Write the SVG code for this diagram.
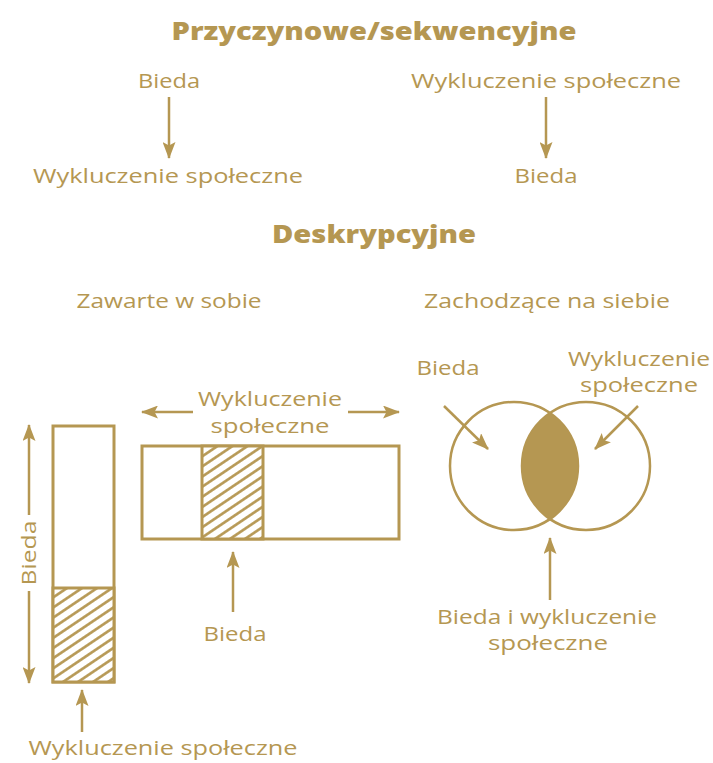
<svg xmlns="http://www.w3.org/2000/svg" width="713" height="763" viewBox="0 0 713 763">
<style>
text{font-family:"Open Sans","Liberation Sans",sans-serif;fill:#B59752;}
.t{font-size:25px;font-weight:800;text-anchor:middle;}
.l{font-size:20.5px;text-anchor:middle;}
.ln{stroke:#B59752;stroke-width:2.5;fill:none;}
.box{stroke:#B59752;stroke-width:3;fill:#fff;}
.hbox{stroke:#B59752;stroke-width:3;fill:url(#hatch);}
</style>
<defs>
<marker id="ah" viewBox="0 0 17 13" refX="16" refY="6.5" markerWidth="17" markerHeight="13" markerUnits="userSpaceOnUse" orient="auto">
<path d="M0,0 L17,6.5 L0,13 L3.5,6.5 Z" fill="#B59752"/>
</marker>
<pattern id="hatch" patternUnits="userSpaceOnUse" width="8.4" height="8.4" patternTransform="rotate(-34)">
<rect width="8.4" height="8.4" fill="#fff"/>
<line x1="-1" y1="4.2" x2="9.4" y2="4.2" stroke="#B59752" stroke-width="2.6"/>
</pattern>
</defs>
<rect width="713" height="763" fill="#fff"/>

<g id="title1"><text class="t" x="374" y="40" textLength="405" lengthAdjust="spacingAndGlyphs">Przyczynowe/sekwencyjne</text></g>
<g id="seq-left">
<text class="l" x="169" y="88" textLength="62" lengthAdjust="spacingAndGlyphs">Bieda</text>
<text class="l" x="168" y="183" textLength="270" lengthAdjust="spacingAndGlyphs">Wykluczenie społeczne</text>
</g>
<g id="seq-right">
<text class="l" x="546" y="88" textLength="270" lengthAdjust="spacingAndGlyphs">Wykluczenie społeczne</text>
<text class="l" x="546" y="183" textLength="63" lengthAdjust="spacingAndGlyphs">Bieda</text>
</g>

<g id="title2"><text class="t" x="374" y="243" textLength="204" lengthAdjust="spacingAndGlyphs">Deskrypcyjne</text></g>
<g id="sub-left"><text class="l" x="169" y="308" textLength="185" lengthAdjust="spacingAndGlyphs">Zawarte w sobie</text></g>
<g id="sub-right"><text class="l" x="547" y="308" textLength="246" lengthAdjust="spacingAndGlyphs">Zachodzące na siebie</text></g>

<g id="vertical-box">
<rect class="box" x="53" y="426" width="61" height="256"/>
<rect class="hbox" x="53" y="588" width="61" height="94"/>
<text class="l" transform="translate(36,553) rotate(-90)" x="0" y="0" textLength="65" lengthAdjust="spacingAndGlyphs">Bieda</text>
<text class="l" x="163" y="755" textLength="269" lengthAdjust="spacingAndGlyphs">Wykluczenie społeczne</text>
</g>

<g id="horizontal-box">
<rect class="box" x="142" y="446" width="257" height="93"/>
<rect class="hbox" x="202" y="446" width="61" height="93"/>
<text class="l" x="270" y="406" textLength="144" lengthAdjust="spacingAndGlyphs">Wykluczenie</text>
<text class="l" x="270" y="433" textLength="119" lengthAdjust="spacingAndGlyphs">społeczne</text>
<text class="l" x="235" y="641" textLength="63" lengthAdjust="spacingAndGlyphs">Bieda</text>
</g>

<g id="venn">
<circle class="ln" cx="514" cy="466" r="64"/>
<circle class="ln" cx="586" cy="466" r="64"/>
<path d="M550,413 A64,64 0 0 1 550,519 A64,64 0 0 1 550,413 Z" fill="#B59752"/>
<text class="l" x="448" y="375" textLength="63" lengthAdjust="spacingAndGlyphs">Bieda</text>
<text class="l" x="639" y="366" textLength="142" lengthAdjust="spacingAndGlyphs">Wykluczenie</text>
<text class="l" x="639" y="392" textLength="118" lengthAdjust="spacingAndGlyphs">społeczne</text>
<text class="l" x="547" y="624" textLength="220" lengthAdjust="spacingAndGlyphs">Bieda i wykluczenie</text>
<text class="l" x="548" y="650" textLength="120" lengthAdjust="spacingAndGlyphs">społeczne</text>
</g>

<g id="connectors">
<line class="ln" x1="169" y1="97" x2="169" y2="158" marker-end="url(#ah)"/>
<line class="ln" x1="546" y1="97" x2="546" y2="158" marker-end="url(#ah)"/>
<line class="ln" x1="29" y1="515" x2="29" y2="425" marker-end="url(#ah)"/>
<line class="ln" x1="29" y1="591" x2="29" y2="683" marker-end="url(#ah)"/>
<line class="ln" x1="82" y1="732" x2="82" y2="690" marker-end="url(#ah)"/>
<line class="ln" x1="193" y1="412" x2="142" y2="412" marker-end="url(#ah)"/>
<line class="ln" x1="348" y1="412" x2="399" y2="412" marker-end="url(#ah)"/>
<line class="ln" x1="233" y1="612" x2="233" y2="552" marker-end="url(#ah)"/>
<line class="ln" x1="444" y1="406" x2="488" y2="449" marker-end="url(#ah)"/>
<line class="ln" x1="638" y1="406" x2="595" y2="449" marker-end="url(#ah)"/>
<line class="ln" x1="550" y1="600" x2="550" y2="538" marker-end="url(#ah)"/>
</g>
</svg>
